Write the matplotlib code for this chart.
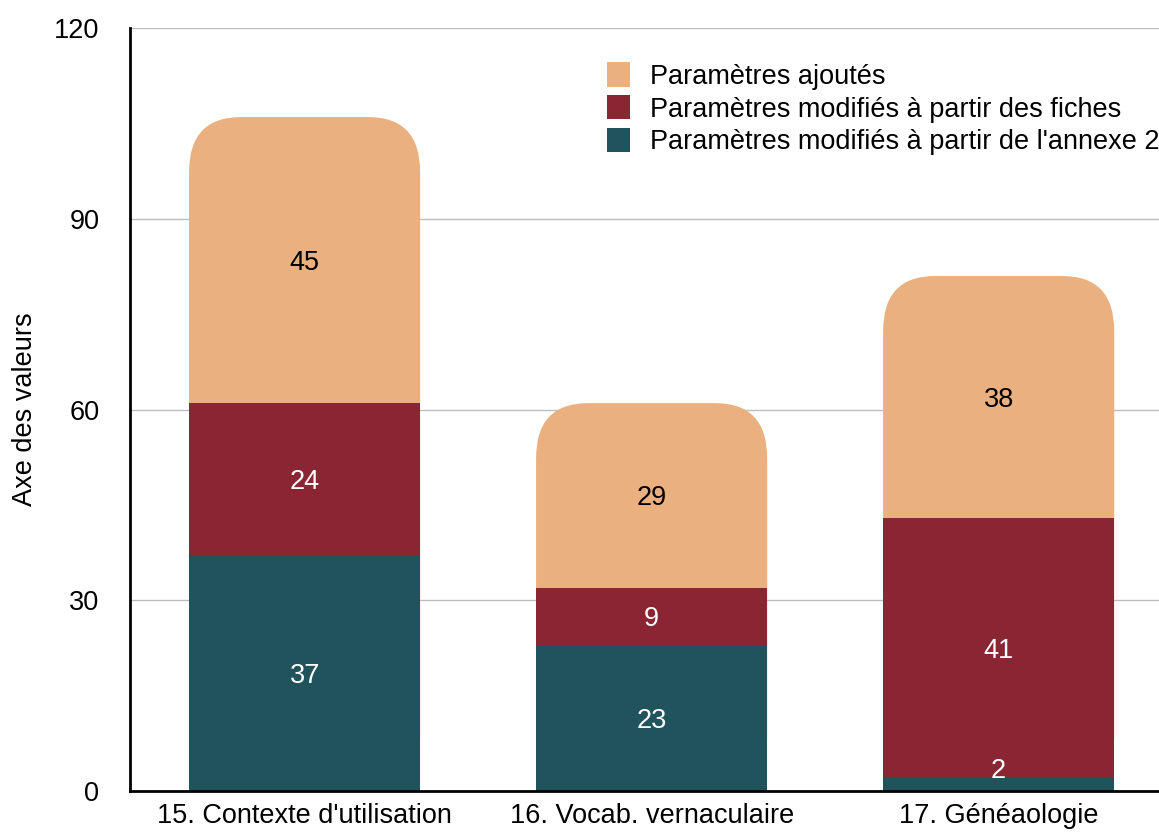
import numpy as np
import matplotlib
matplotlib.use("Agg")
import matplotlib.pyplot as plt
from matplotlib.patches import FancyBboxPatch, Patch

plt.rcParams['font.family'] = ['Liberation Sans', 'DejaVu Sans']

# data
categories = ["15. Contexte d'utilisation", "16. Vocab. vernaculaire", "17. Généaologie"]
annexe = [37, 23, 2]
fiches = [24, 9, 41]
ajoutes = [45, 29, 38]
series_names = ["Paramètres ajoutés",
                "Paramètres modifiés à partir des fiches",
                "Paramètres modifiés à partir de l'annexe 2"]

c_orange = "#EBB07F"
c_red = "#8A2533"
c_teal = "#20535C"
fs = 19.5

fig = plt.figure(figsize=(11.59, 8.32), dpi=100)
ax = fig.add_axes([0.1122, 0.0493, 0.8878, 0.917])

x = np.arange(len(categories))
w = 0.666

bottoms = np.array(annexe) + np.array(fiches)
totals = bottoms + np.array(ajoutes)

# top segment: rounded box drawn from 0 to the total, lower segments cover its bottom
r = 0.15          # corner radius in x units
asp = 57.7        # y units per x unit for the corner
for xi, t in zip(x, totals):
    ax.add_patch(FancyBboxPatch((xi - w / 2, 0), w, t,
                                boxstyle=f"round,pad=0,rounding_size={r}",
                                mutation_aspect=asp, fc=c_orange, ec="none", zorder=1.5))

ax.bar(x, annexe, w, color=c_teal, zorder=2)
ax.bar(x, fiches, w, bottom=annexe, color=c_red, zorder=2)

# value labels
def label(xi, bottom, h, color):
    if h < 5:
        ax.text(xi, bottom + h, str(h), ha='center', va='baseline', color=color, fontsize=fs, zorder=3)
    else:
        ax.text(xi, bottom + h / 2, str(h), ha='center', va='center_baseline', color=color, fontsize=fs, zorder=3)

for i in range(len(categories)):
    label(x[i], 0, annexe[i], 'white')
    label(x[i], annexe[i], fiches[i], 'white')
    label(x[i], bottoms[i], ajoutes[i], 'black')

ax.set_xlim(-0.503, 2.462)
ax.set_ylim(0, 120)
ax.set_yticks([0, 30, 60, 90, 120])
ax.set_xticks(x)
ax.set_xticklabels(categories)
ax.tick_params(axis='y', length=0, pad=22, labelsize=fs)
ax.tick_params(axis='x', length=0, pad=9, labelsize=fs)
ax.yaxis.grid(True, color='#BDBDBD', linewidth=1, zorder=0)
ax.set_axisbelow(True)
for s in ['top', 'right']:
    ax.spines[s].set_visible(False)
for s in ['left', 'bottom']:
    ax.spines[s].set_linewidth(2)
    ax.spines[s].set_zorder(4)
ax.set_ylabel("Axe des valeurs", fontsize=fs)
ax.yaxis.set_label_coords(-0.089, 0.5)

handles = [Patch(fc=c_orange), Patch(fc=c_red), Patch(fc=c_teal)]
ax.legend(handles, series_names, loc='upper left', bbox_to_anchor=(0.4636, 0.955),
          frameon=False, fontsize=fs, handlelength=0.85, handleheight=1.0,
          handletextpad=0.75, labelspacing=0.2, borderpad=0, borderaxespad=0)

fig.savefig("out.png", dpi=100)
